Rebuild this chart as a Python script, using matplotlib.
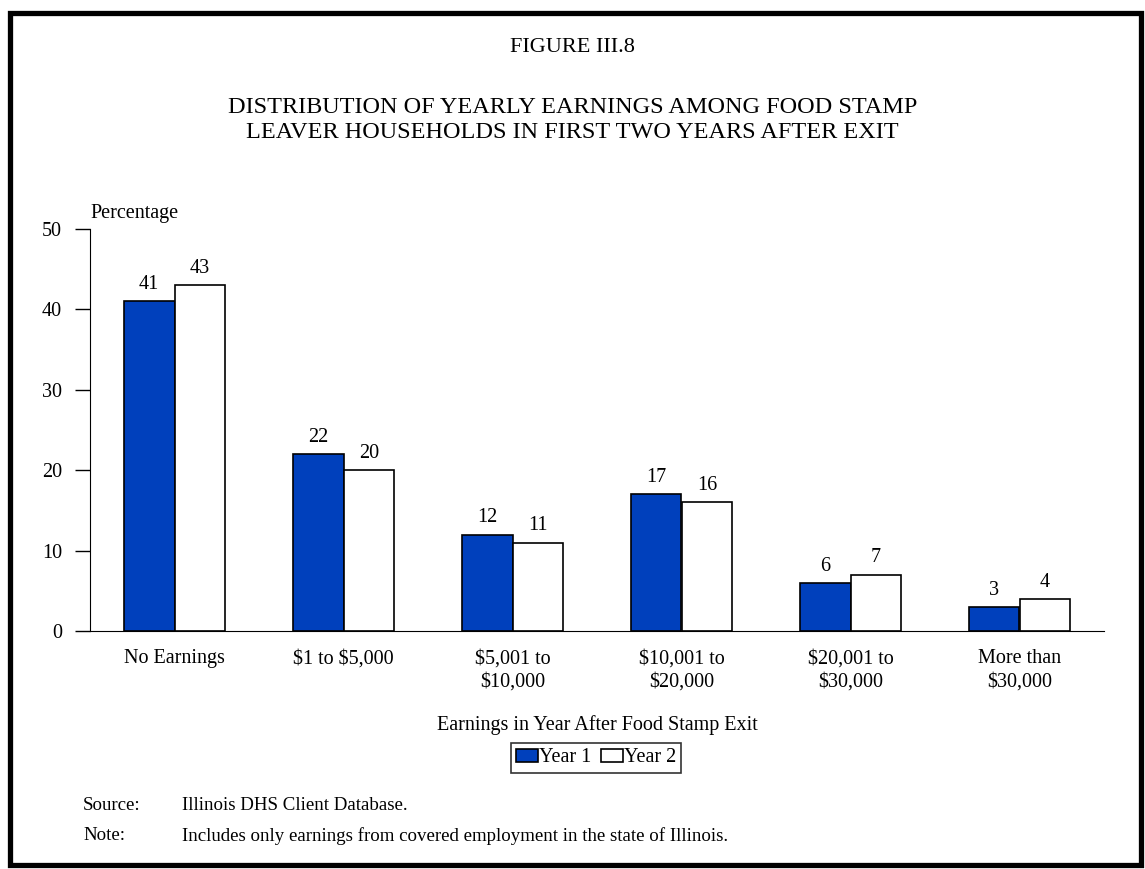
import matplotlib.pyplot as plt
from matplotlib.patches import Rectangle
import numpy as np

plt.rcParams['font.family'] = ['Liberation Serif', 'DejaVu Serif']

categories = ["No Earnings", "\\$1 to \\$5,000", "\\$5,001 to\n\\$10,000",
              "\\$10,001 to\n\\$20,000", "\\$20,001 to\n\\$30,000", "More than\n\\$30,000"]
year1 = [41, 22, 12, 17, 6, 3]
year2 = [43, 20, 11, 16, 7, 4]
yticks = [0, 10, 20, 30, 40, 50]

blue = '#0040BC'
W, H = 1145, 869

fig = plt.figure(figsize=(W / 100, H / 100), dpi=100)

# page border
fig.patches.append(Rectangle((9.5 / W, 1 - 865 / H), (1141 - 9.5) / W, (865 - 13) / H,
                             transform=fig.transFigure, fill=False, lw=3.8, edgecolor='black'))

fig.text(0.5, 1 - 48 / H, "FIGURE III.8", ha='center', va='center', fontsize=16)
fig.text(0.5, 1 - 120 / H, "DISTRIBUTION OF YEARLY EARNINGS AMONG FOOD STAMP\nLEAVER HOUSEHOLDS IN FIRST TWO YEARS AFTER EXIT",
         ha='center', va='center', fontsize=17.5, linespacing=1.25)

ax = fig.add_axes([90 / W, 1 - 631 / H, (1104 - 90) / W, (631 - 229) / H])
x = np.arange(len(categories))
w = 0.3
ax.bar(x - w / 2, year1, w, color=blue, edgecolor='black', lw=1.2, label='Year 1')
ax.bar(x + w / 2, year2, w, color='white', edgecolor='black', lw=1.2, label='Year 2')

for i in range(len(categories)):
    ax.text(x[i] - w / 2, year1[i] + 0.9, str(year1[i]), ha='center', va='bottom', fontsize=14.5)
    ax.text(x[i] + w / 2, year2[i] + 0.9, str(year2[i]), ha='center', va='bottom', fontsize=14.5)

ax.set_xlim(-0.5, len(categories) - 0.5)
ax.set_ylim(0, 50)
ax.set_yticks(yticks)
ax.tick_params(axis='y', length=11, width=1, pad=9, labelsize=14.5)
ax.set_xticks(x)
ax.set_xticklabels(categories, fontsize=14.5, linespacing=1.3)
ax.tick_params(axis='x', length=0, pad=13)
ax.spines['top'].set_visible(False)
ax.spines['right'].set_visible(False)
ax.text(0, 1.015, "Percentage", transform=ax.transAxes, ha='left', va='bottom', fontsize=14.5)
ax.set_xlabel("Earnings in Year After Food Stamp Exit", fontsize=14.5, labelpad=17)

leg = fig.legend(loc='center', bbox_to_anchor=(596 / W, 1 - 758 / H), ncol=2, fontsize=14.5,
                 frameon=True, fancybox=False, edgecolor='black', handlelength=1.1,
                 handleheight=0.6, handletextpad=0.05, columnspacing=0.5, borderpad=0.25,
                 borderaxespad=0)
leg.get_frame().set_linewidth(1.2)

fig.text(83 / W, 1 - 805 / H, "Source:", fontsize=13.6, va='center')
fig.text(182 / W, 1 - 805 / H, "Illinois DHS Client Database.", fontsize=13.6, va='center')
fig.text(83 / W, 1 - 836 / H, "Note:", fontsize=13.6, va='center')
fig.text(182 / W, 1 - 836 / H, "Includes only earnings from covered employment in the state of Illinois.",
         fontsize=13.6, va='center')

fig.savefig('out.png', dpi=100)
